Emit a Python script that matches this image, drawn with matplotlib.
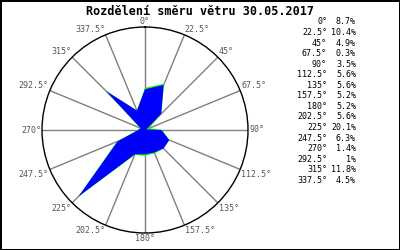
import numpy as np
import matplotlib.pyplot as plt

# Wind direction distribution
directions = [0, 22.5, 45, 67.5, 90, 112.5, 135, 157.5,
              180, 202.5, 225, 247.5, 270, 292.5, 315, 337.5]
dir_labels = ["0°", "22.5°", "45°", "67.5°", "90°", "112.5°", "135°", "157.5°",
              "180°", "202.5°", "225°", "247.5°", "270°", "292.5°", "315°", "337.5°"]
share = [8.7, 10.4, 4.9, 0.3, 3.5, 5.6, 5.6, 5.2,
         5.2, 5.6, 20.1, 6.3, 1.4, 1.0, 11.8, 4.5]
share_labels = ["8.7%", "10.4%", "4.9%", "0.3%", "3.5%", "5.6%", "5.6%", "5.2%",
                "5.2%", "5.6%", "20.1%", "6.3%", "1.4%", "1%", "11.8%", "4.5%"]
# green outline peeking out behind the blue rose
share_green = [9.0, 10.7, 4.9, 1.0, 3.7, 5.6, 5.6, 5.4,
               5.5, 5.8, 20.1, 6.5, 1.6, 1.2, 11.9, 4.5]
r_max = 22

mono = "DejaVu Sans Mono"

fig = plt.figure(figsize=(4, 2.5), dpi=100)
fig.patch.set_edgecolor("black")
fig.patch.set_linewidth(2)

ax = fig.add_axes([0.105, 0.068, 0.515, 0.824], projection="polar")
ax.set_theta_zero_location("N")
ax.set_theta_direction(-1)
ax.set_ylim(0, r_max)

theta = np.deg2rad(directions + [directions[0]])
ax.fill(theta, share_green + [share_green[0]], color="#00ff00", lw=0, zorder=3)
ax.fill(theta, share + [share[0]], color="#0000ff", lw=0, zorder=4)

# spokes
for d in directions:
    ax.plot([np.deg2rad(d)] * 2, [0, r_max], color="#808080", lw=1, zorder=2)

ax.grid(False)
ax.set_xticks([])
ax.set_yticks([])
ax.spines["polar"].set_color("black")
ax.spines["polar"].set_linewidth(1)

for d, lab in zip(directions, dir_labels):
    s, c = np.sin(np.deg2rad(d)), np.cos(np.deg2rad(d))
    ha = "left" if s > 0.1 else ("right" if s < -0.1 else "center")
    va = "bottom" if c > 0.1 else ("top" if c < -0.1 else "center")
    ax.text(np.deg2rad(d), r_max * 1.01, lab, ha=ha, va=va,
            fontsize=6, family=mono, color="#555555", clip_on=False)

fig.text(0.5, 0.955, "Rozdělení směru větru 30.05.2017", ha="center", va="center",
         fontsize=8.5, family=mono, fontweight="bold")

# value list on the right
for i, (lab, val) in enumerate(zip(dir_labels, share_labels)):
    y = 1 - (22 + i * 10.55) / 250
    fig.text(327 / 400, y, lab, ha="right", va="center", fontsize=6, family=mono)
    fig.text(356 / 400, y, val, ha="right", va="center", fontsize=6, family=mono)

fig.savefig("out.png", dpi=100, edgecolor=fig.get_edgecolor())
